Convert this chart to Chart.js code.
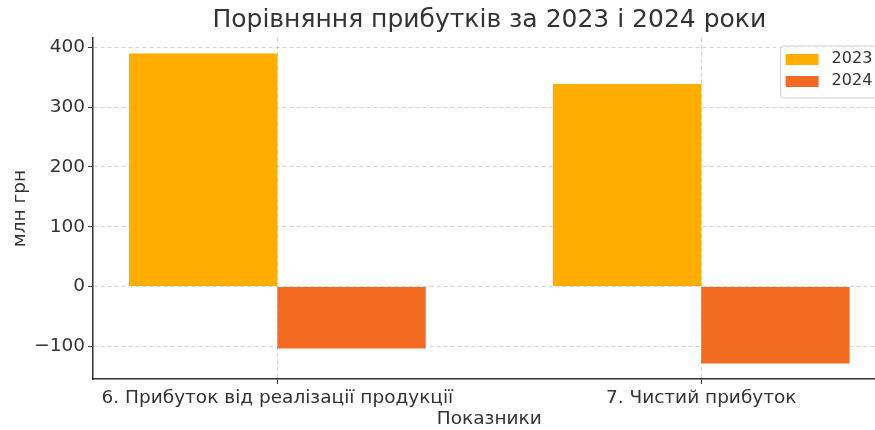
<!DOCTYPE html>
<html>
<head>
<meta charset="utf-8">
<script src="https://cdn.jsdelivr.net/npm/chart.js@4/dist/chart.umd.min.js"></script>
<style>
html, body { margin: 0; padding: 0; background: #fff; }
#wrap { width: 875px; height: 430px; position: relative; }
</style>
</head>
<body>
<div id="wrap"><canvas id="chart"></canvas></div>
<script>
// Chart data
var categories = ['6. Прибуток від реалізації продукції', '7. Чистий прибуток'];
var years = ['2023', '2024'];
var values2023 = [390, 339];
var values2024 = [-104, -129];
var yTicks = [-100, 0, 100, 200, 300, 400];
var colors = ['#FFAE00', '#F26B21'];

var titleText = 'Порівняння прибутків за 2023 і 2024 роки';
var xTitle = 'Показники';
var yTitle = 'млн грн';
var font = 'DejaVu Sans';
var textColor = '#333';

// matplotlib x limits; the right part falls outside the picture
var xLimMin = -0.435, xLimMax = 1.435;

function toPoints(arr) {
    return arr.map(function (v, i) { return {x: i, y: v}; });
}

// titles centred over the full (partly cropped) axes
var titlePlugin = {
    id: 'plotTitles',
    afterDraw: function (chart) {
        var ctx = chart.ctx, area = chart.chartArea;
        var cx = chart.scales.x.getPixelForValue((xLimMin + xLimMax) / 2);
        ctx.save();
        ctx.fillStyle = textColor;
        ctx.textAlign = 'center';
        ctx.textBaseline = 'middle';
        ctx.font = '25px "' + font + '"';
        ctx.fillText(titleText, cx, 20);
        ctx.font = '18.5px "' + font + '"';
        ctx.fillText(xTitle, cx, 419);
        ctx.restore();
    }
};

// legend box inside the upper right corner
var legendPlugin = {
    id: 'innerLegend',
    afterDraw: function (chart) {
        var ctx = chart.ctx, area = chart.chartArea;
        var right = chart.scales.x.getPixelForValue(xLimMax) - 7, top = area.top + 8;
        var w = 98, h = 52, left = right - w;
        ctx.save();
        ctx.beginPath();
        ctx.roundRect(left, top, w, h, 3);
        ctx.fillStyle = 'rgba(255,255,255,0.8)';
        ctx.fill();
        ctx.strokeStyle = '#cccccc';
        ctx.lineWidth = 1;
        ctx.stroke();
        ctx.font = '16px "' + font + '"';
        ctx.textBaseline = 'middle';
        ctx.textAlign = 'left';
        chart.data.datasets.forEach(function (ds, i) {
            var cy = top + 13 + i * 22;
            ctx.fillStyle = ds.backgroundColor;
            ctx.fillRect(left + 5, cy - 5, 33, 11);
            ctx.fillStyle = textColor;
            ctx.fillText(ds.label, left + 51, cy);
        });
        ctx.restore();
    }
};

var ctx = document.getElementById('chart').getContext('2d');
new Chart(ctx, {
    type: 'bar',
    data: {
        datasets: [
            {label: years[0], data: toPoints(values2023), backgroundColor: colors[0], borderWidth: 0},
            {label: years[1], data: toPoints(values2024), backgroundColor: colors[1], borderWidth: 0}
        ]
    },
    options: {
        responsive: true,
        maintainAspectRatio: false,
        animation: false,
        categoryPercentage: 0.7,
        barPercentage: 1,
        layout: {padding: {top: 38, left: 0, right: 0, bottom: 0}},
        plugins: {
            legend: {display: false},
            tooltip: {enabled: false}
        },
        scales: {
            x: {
                type: 'linear',
                min: xLimMin,
                max: 1.41,
                offset: false,
                afterBuildTicks: function (scale) {
                    scale.ticks = categories.map(function (c, i) { return {value: i}; });
                },
                afterFit: function (scale) { scale.height = 51; },
                ticks: {
                    autoSkip: false,
                    maxRotation: 0,
                    padding: 3,
                    color: textColor,
                    font: {family: font, size: 18.5},
                    callback: function (v) { return categories[v]; }
                },
                grid: {
                    offset: false,
                    color: 'rgba(180,180,180,0.6)',
                    tickColor: textColor,
                    tickLength: 5,
                    tickBorderDash: []
                },
                border: {display: true, color: textColor, width: 1.5, dash: [4, 3]}
            },
            y: {
                min: -155,
                max: 416,
                afterBuildTicks: function (scale) {
                    scale.ticks = yTicks.map(function (v) { return {value: v}; });
                },
                afterFit: function (scale) { scale.width = 93; },
                ticks: {
                    padding: 3,
                    color: textColor,
                    font: {family: font, size: 18.5},
                    callback: function (v) { return v < 0 ? '\u2212' + Math.abs(v) : String(v); }
                },
                grid: {
                    color: 'rgba(180,180,180,0.6)',
                    tickColor: textColor,
                    tickLength: 5,
                    tickBorderDash: []
                },
                border: {display: true, color: textColor, width: 1.5, dash: [4, 3]},
                title: {
                    display: true,
                    text: yTitle,
                    color: textColor,
                    font: {family: font, size: 18.5},
                    padding: {top: 9, bottom: 0}
                }
            }
        }
    },
    plugins: [titlePlugin, legendPlugin]
});
</script>
</body>
</html>
